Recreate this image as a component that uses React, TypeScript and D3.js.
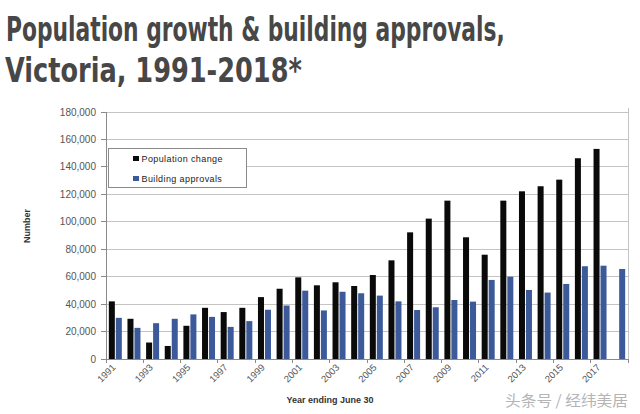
import React, { useLayoutEffect, useRef, useState } from "react";
import * as d3 from "d3";

const years = ["1991","1992","1993","1994","1995","1996","1997","1998","1999","2000","2001","2002","2003","2004","2005","2006","2007","2008","2009","2010","2011","2012","2013","2014","2015","2016","2017","2018"];
const populationChange: (number | null)[] = [42000, 29300, 12000, 9500, 24200, 37300, 34200, 37300, 45100, 51200, 59500, 53700, 55900, 53200, 61200, 71900, 92300, 102300, 115400, 88700, 76000, 115400, 122200, 125900, 130700, 146300, 153100, null];
const buildingApprovals: (number | null)[] = [30000, 22700, 26100, 29300, 32500, 30700, 23400, 27600, 35900, 39000, 49800, 35400, 49000, 47900, 46200, 42000, 35700, 37700, 43000, 41800, 57600, 60000, 50300, 48400, 54700, 67600, 68000, 65600];
const yTicks = [0, 20000, 40000, 60000, 80000, 100000, 120000, 140000, 160000, 180000];
const seriesNames = ["Population change", "Building approvals"];
const seriesColors = ["#0a0a0a", "#3c5a9a"];
const titleLines = ["Population growth & building approvals,", "Victoria, 1991-2018*"];
const xTitle = "Year ending June 30";
const yTitle = "Number";
const watermark = "头条号 / 经纬美居";

const W = 640, H = 414;
const plot = { left: 106, right: 628, top: 112, bottom: 359 };
const titleTargets = [{ x: 6, y: 41, w: 499 }, { x: 5, y: 82, w: 297 }];

function FitText({ text, x, y, w, ...rest }: any) {
  const ref = useRef<SVGTextElement>(null);
  const [sx, setSx] = useState(1);
  useLayoutEffect(() => {
    if (ref.current) {
      const len = ref.current.getComputedTextLength();
      if (len > 0) setSx(w / len);
    }
  }, [text, w]);
  return (
    <g transform={`translate(${x},${y}) scale(${sx},1)`}>
      <text ref={ref} x={0} y={0} {...rest}>{text}</text>
    </g>
  );
}

export default function App() {
  const x = d3.scaleBand<string>().domain(years).range([plot.left, plot.right]).padding(0);
  const y = d3.scaleLinear().domain([0, 180000]).range([plot.bottom, plot.top]);
  const bw = x.bandwidth();
  const inner = d3.scaleBand<number>().domain([0, 1]).range([bw / 2 - 6.5, bw / 2 + 6.5]).paddingInner(0.14);
  const fmt = d3.format(",");
  const series = [populationChange, buildingApprovals];
  const labelFont = "'Liberation Sans', Arial, sans-serif";

  return (
    <svg width={W} height={H} style={{ position: "absolute", left: 0, top: 0, background: "#fff" }}>
      <rect x={0} y={0} width={W} height={H} fill="#fff" />
      {titleLines.map((t, i) => (
        <FitText key={t} text={t} x={titleTargets[i].x} y={titleTargets[i].y} w={titleTargets[i].w}
          fontFamily="'Liberation Sans Narrow', 'DejaVu Sans Condensed', 'Arial Narrow', sans-serif"
          fontWeight="bold" fontSize={33} fill="#474747" />
      ))}

      {/* gridlines */}
      {yTicks.map(t => (
        <g key={t}>
          <line x1={plot.left} x2={plot.right} y1={y(t)} y2={y(t)} stroke={t === 0 ? "#8a8a8a" : "#c4c4c4"} strokeWidth={1} shapeRendering="crispEdges" />
          <line x1={plot.left - 5} x2={plot.left} y1={y(t)} y2={y(t)} stroke="#8a8a8a" shapeRendering="crispEdges" />
          <text x={96} y={y(t)} dy="0.35em" textAnchor="end" fontFamily={labelFont} fontSize={10} fill="#555">{fmt(t)}</text>
        </g>
      ))}
      <line x1={plot.left} x2={plot.left} y1={plot.top} y2={plot.bottom} stroke="#8a8a8a" shapeRendering="crispEdges" />
      <line x1={plot.right} x2={plot.right} y1={plot.top - 4} y2={plot.bottom} stroke="#c4c4c4" shapeRendering="crispEdges" />

      {/* bars */}
      {years.map((yr, i) => (
        <g key={yr} transform={`translate(${x(yr)},0)`}>
          {series.map((s, k) => {
            const v = s[i];
            if (v == null) return null;
            return <rect key={k} x={inner(k)} y={y(v)} width={inner.bandwidth()} height={y(0) - y(v)} fill={seriesColors[k]} />;
          })}
        </g>
      ))}

      {/* x ticks */}
      {d3.range(0, years.length + 1, 2).map(i => {
        const xx = plot.left + i * bw;
        return <line key={i} x1={xx} x2={xx} y1={plot.bottom} y2={plot.bottom + 4} stroke="#8a8a8a" shapeRendering="crispEdges" />;
      })}
      {years.filter((_, i) => i % 2 === 0).map(yr => {
        const cx = (x(yr) as number) + bw / 2 + 1;
        const cy = 368;
        return (
          <text key={yr} x={cx} y={cy} transform={`rotate(-45 ${cx} ${cy})`} textAnchor="end"
            fontFamily={labelFont} fontSize={9.5} fill="#555">{yr}</text>
        );
      })}

      {/* axis titles */}
      <text x={330} y={403} textAnchor="middle" fontFamily={labelFont} fontWeight="bold" fontSize={9} fill="#333">{xTitle}</text>
      <text transform="translate(30,226) rotate(-90)" textAnchor="middle" fontFamily={labelFont} fontWeight="bold" fontSize={9} fill="#333">{yTitle}</text>

      {/* legend */}
      <rect x={108.5} y={148.5} width={138} height={39} fill="#fff" stroke="#8a8a8a" />
      {seriesNames.map((n, k) => (
        <g key={n} transform={`translate(133,${156 + k * 20})`}>
          <rect x={0} y={0} width={6} height={5} fill={seriesColors[k]} />
          <text x={8.5} y={5.5} fontFamily={labelFont} fontSize={9} fill="#222" letterSpacing={0.4}>{n}</text>
        </g>
      ))}

      {/* watermark */}
      <text x={505} y={406} fontFamily="'Noto Sans CJK SC', sans-serif" fontSize={15} fill="#b4b4b4" textLength={123} lengthAdjust="spacingAndGlyphs">{watermark}</text>
    </svg>
  );
}
